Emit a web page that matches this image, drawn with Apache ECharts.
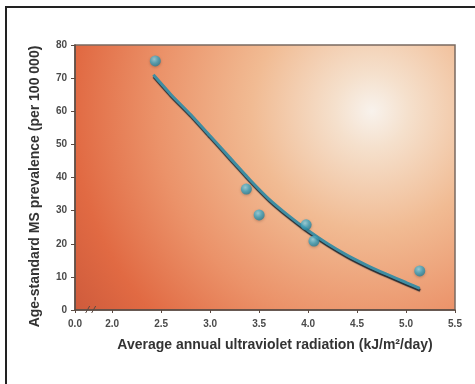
<!DOCTYPE html>
<html>
<head>
<meta charset="utf-8">
<script src="https://cdn.jsdelivr.net/npm/echarts@6/dist/echarts.min.js"></script>
<style>
  html, body { margin: 0; padding: 0; background: #fff; }
  #chart { position: absolute; left: 0; top: 0; width: 475px; height: 384px; }
  .frame { position: absolute; left: 5px; top: 6px; width: 475px; height: 384px;
           border-left: 2.5px solid #222; border-top: 2.5px solid #222; pointer-events: none; }
</style>
</head>
<body>
<div id="chart"></div>
<div class="frame"></div>
<script>
// 观测点：紫外线辐射 vs MS 患病率
const uvX = [2.44, 3.37, 3.50, 3.98, 4.06, 5.14]
const msY = [75.2, 36.5, 28.7, 25.7, 20.8, 11.8]

// 拟合曲线
const fitX = [2.42, 2.6, 2.8, 3.0, 3.2, 3.4, 3.6, 3.8, 4.0, 4.2, 4.4, 4.6, 4.8, 5.0, 5.14]
const fitY = [71, 65, 59, 52.5, 46, 39.5, 33.5, 28.5, 24, 20, 16.5, 13.5, 10.8, 8.3, 6.5]

// 断轴：最左刻度标成 0.0
const xMin = 1.62
const xMax = 5.5
const xTicks = [1.62, 2.0, 2.5, 3.0, 3.5, 4.0, 4.5, 5.0, 5.5]
const xTickLabels = ['0.0', '2.0', '2.5', '3.0', '3.5', '4.0', '4.5', '5.0', '5.5']

const font = "'Liberation Sans Narrow', 'Liberation Sans', Arial, sans-serif"
const chart = echarts.init(document.getElementById('chart'))

const option = {
  animation: false,
  grid: {
    left: 75, right: 20, top: 45, bottom: 74,
    show: true,
    borderColor: '#7a6a60',
    borderWidth: 1.5,
    backgroundColor: {
      type: 'radial', x: 0.78, y: 0.25, r: 1.4,
      colorStops: [
        { offset: 0, color: '#f8f2ec' },
        { offset: 0.1, color: '#f5e0cc' },
        { offset: 0.32, color: '#f1bb93' },
        { offset: 0.58, color: '#eb9269' },
        { offset: 0.8, color: '#e16a43' },
        { offset: 1, color: '#c9573a' }
      ]
    }
  },
  xAxis: {
    type: 'value',
    min: xMin,
    max: xMax,
    name: 'Average annual ultraviolet radiation (kJ/m²/day)',
    nameLocation: 'middle',
    nameGap: 28,
    nameTextStyle: { fontFamily: font, fontWeight: 'bold', fontSize: 14, color: '#333', padding: [0, 0, 0, 20] },
    splitLine: { show: false },
    axisLine: { show: true, lineStyle: { color: '#5a4a42', width: 1.5 } },
    axisTick: { show: true, length: 3, customValues: xTicks, lineStyle: { color: '#5a4a42' } },
    axisLabel: {
      customValues: xTicks,
      formatter: v => xTickLabels[xTicks.indexOf(v)] ?? '',
      fontFamily: font, fontWeight: 'bold', fontSize: 10, color: '#4a4a4a', margin: 9
    }
  },
  yAxis: {
    type: 'value',
    min: 0,
    max: 80,
    interval: 10,
    name: 'Age-standard MS prevalence (per 100 000)',
    nameLocation: 'middle',
    nameGap: 33,
    nameTextStyle: { fontFamily: font, fontWeight: 'bold', fontSize: 14, color: '#333', padding: [0, 18, 0, 0] },
    splitLine: { show: false },
    axisLine: { show: true, lineStyle: { color: '#5a4a42', width: 1.5 } },
    axisTick: { show: true, length: 4, lineStyle: { color: '#5a4a42' } },
    axisLabel: { fontFamily: font, fontWeight: 'bold', fontSize: 10, color: '#4a4a4a', margin: 8 }
  },
  series: [
    {
      type: 'line',
      data: fitX.map((x, i) => [x, fitY[i]]),
      smooth: 0.15,
      showSymbol: false,
      lineStyle: {
        color: '#3f8da2',
        width: 3,
        shadowColor: 'rgba(25,35,45,0.95)',
        shadowOffsetY: 2,
        shadowOffsetX: 0.5,
        shadowBlur: 1
      },
      z: 2
    },
    {
      type: 'scatter',
      data: uvX.map((x, i) => [x, msY[i]]),
      symbolSize: 11,
      itemStyle: {
        color: {
          type: 'radial', x: 0.4, y: 0.35, r: 0.7,
          colorStops: [
            { offset: 0, color: '#8fd6e8' },
            { offset: 0.5, color: '#3fa8c4' },
            { offset: 1, color: '#227a93' }
          ]
        },
        shadowBlur: 3,
        shadowColor: 'rgba(60,30,20,0.35)',
        shadowOffsetY: 1
      },
      z: 3
    }
  ]
}

chart.setOption(option)

// 断轴标记 //
const p = chart.convertToPixel({ gridIndex: 0 }, [1.78, 0])
chart.setOption({
  graphic: [
    { type: 'line', shape: { x1: p[0] - 5, y1: p[1] + 3, x2: p[0] - 1, y2: p[1] - 4 }, style: { stroke: '#5a4a42', lineWidth: 1 } },
    { type: 'line', shape: { x1: p[0] + 1, y1: p[1] + 3, x2: p[0] + 5, y2: p[1] - 4 }, style: { stroke: '#5a4a42', lineWidth: 1 } }
  ]
})
</script>
</body>
</html>
